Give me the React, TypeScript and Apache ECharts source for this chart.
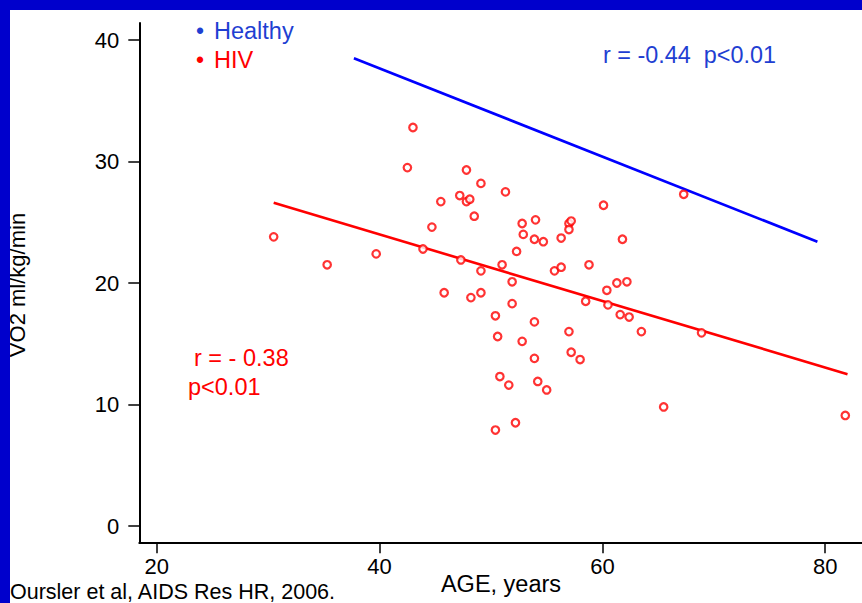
import React, { useEffect, useRef } from "react";
import * as echarts from "echarts";

// HIV patients: age (years) and VO2 (ml/kg/min)
const hivAge = [
  43.0, 42.5, 47.8, 49.1, 51.3, 45.5, 47.2, 47.8, 48.1, 48.5,
  44.7, 43.9, 47.3, 49.1, 51.0, 51.9, 45.8, 48.2, 49.1, 51.9,
  50.4, 50.6, 53.9, 52.8, 53.9, 50.8, 51.6, 54.2, 55.0, 50.4,
  52.2, 52.8, 52.9, 54.0, 53.9, 54.7, 52.3, 56.3, 57.0, 57.2,
  57.0, 60.1, 61.8, 67.3, 55.7, 56.3, 58.8, 61.3, 62.2, 60.4,
  58.5, 60.5, 61.6, 62.4, 63.5, 57.0, 57.2, 58.0, 65.5, 68.9,
  81.8, 30.5, 35.3, 39.7,
];
const hivVo2 = [
  32.8, 29.5, 29.3, 28.2, 27.5, 26.7, 27.2, 26.7, 26.9, 25.5,
  24.6, 22.8, 21.9, 21.0, 21.5, 20.1, 19.2, 18.8, 19.2, 18.3,
  17.3, 15.6, 16.8, 15.2, 13.8, 12.3, 11.6, 11.9, 11.2, 7.9,
  8.5, 24.9, 24.0, 25.2, 23.6, 23.4, 22.6, 23.7, 24.9, 25.1,
  24.4, 26.4, 23.6, 27.3, 21.0, 21.3, 21.5, 20.0, 20.1, 19.4,
  18.5, 18.2, 17.4, 17.2, 16.0, 16.0, 14.3, 13.7, 9.8, 15.9,
  9.1, 23.8, 21.5, 22.4,
];

// Regression lines (end points)
const healthyLineAge = [37.7, 79.3];
const healthyLineVo2 = [38.5, 23.4];
const hivLineAge = [30.5, 82.0];
const hivLineVo2 = [26.6, 12.5];

// Axis ticks
const xTicks = [20, 40, 60, 80];
const yTicks = [0, 10, 20, 30, 40];

const FONT = "Liberation Sans, Arial, sans-serif";
const TEXT_BLUE = "#1f3fd2";
const RED = "#ff0000";

export default function App() {
  const ref = useRef<HTMLDivElement>(null);

  useEffect(() => {
    if (!ref.current) return;
    const chart = echarts.init(ref.current, null, { renderer: "svg" });

    const hivPoints = hivAge.map((a, i) => [a, hivVo2[i]]);
    const healthyLine = healthyLineAge.map((a, i) => [a, healthyLineVo2[i]]);
    const hivLine = hivLineAge.map((a, i) => [a, hivLineVo2[i]]);

    chart.setOption({
      animation: false,
      backgroundColor: "#ffffff",
      grid: { left: 139.3, top: 23, right: 0, bottom: 603 - 542.3, containLabel: false },
      xAxis: {
        type: "value",
        min: 18.44,
        max: 83.3,
        splitLine: { show: false },
        axisLine: { show: true, onZero: false, lineStyle: { color: "#000", width: 2 } },
        axisTick: {
          show: true,
          customValues: xTicks,
          length: 11,
          inside: false,
          lineStyle: { color: "#000", width: 1.5 },
        },
        axisLabel: {
          customValues: xTicks,
          margin: 13,
          color: "#000",
          fontSize: 22,
          fontFamily: FONT,
        },
      },
      yAxis: {
        type: "value",
        min: -1.34,
        max: 41.4,
        splitLine: { show: false },
        axisLine: { show: true, onZero: false, lineStyle: { color: "#000", width: 2 } },
        axisTick: {
          show: true,
          customValues: yTicks,
          length: 11,
          inside: false,
          lineStyle: { color: "#000", width: 1.5 },
        },
        axisLabel: {
          customValues: yTicks,
          margin: 20,
          color: "#000",
          fontSize: 22,
          fontFamily: FONT,
        },
      },
      series: [
        {
          type: "line",
          data: healthyLine,
          symbol: "none",
          lineStyle: { color: "#0000ff", width: 2.6 },
          z: 3,
        },
        {
          type: "line",
          data: hivLine,
          symbol: "none",
          lineStyle: { color: RED, width: 2.6 },
          z: 3,
        },
        {
          type: "scatter",
          data: hivPoints,
          symbol: "circle",
          symbolSize: 7.5,
          itemStyle: { color: "#ffffff", borderColor: RED, borderWidth: 2.2 },
          z: 4,
        },
      ],
      graphic: [
        { type: "rect", shape: { x: 0, y: 0, width: 10, height: 603 }, style: { fill: "#0000cc" }, z: 100 },
        { type: "rect", shape: { x: 0, y: 0, width: 862, height: 10 }, style: { fill: "#0000cc" }, z: 100 },
        {
          type: "text",
          style: { text: "•", x: 196, y: 31, fill: TEXT_BLUE, font: `23px ${FONT}`, verticalAlign: "middle" },
        },
        {
          type: "text",
          style: { text: "Healthy", x: 214, y: 31, fill: TEXT_BLUE, font: `23.5px ${FONT}`, verticalAlign: "middle" },
        },
        {
          type: "text",
          style: { text: "•", x: 196, y: 60, fill: RED, font: `23px ${FONT}`, verticalAlign: "middle" },
        },
        {
          type: "text",
          style: { text: "HIV", x: 214, y: 60, fill: RED, font: `23.5px ${FONT}`, verticalAlign: "middle" },
        },
        {
          type: "text",
          style: { text: "r = -0.44  p<0.01", x: 603, y: 55, fill: TEXT_BLUE, font: `23.4px ${FONT}`, verticalAlign: "middle" },
        },
        {
          type: "text",
          style: { text: "r = - 0.38", x: 194, y: 358, fill: RED, font: `23.5px ${FONT}`, verticalAlign: "middle" },
        },
        {
          type: "text",
          style: { text: "p<0.01", x: 188, y: 387, fill: RED, font: `23.5px ${FONT}`, verticalAlign: "middle" },
        },
        {
          type: "text",
          x: 17,
          y: 285,
          rotation: Math.PI / 2,
          style: { text: "VO2 ml/kg/min", x: 0, y: 0, fill: "#000", font: `22px ${FONT}`, align: "center", verticalAlign: "middle" },
        },
        {
          type: "text",
          style: { text: "AGE, years", x: 501, y: 584, fill: "#000", font: `23.5px ${FONT}`, align: "center", verticalAlign: "middle" },
        },
        {
          type: "text",
          style: { text: "Oursler et al, AIDS Res HR, 2006.", x: 10, y: 592, fill: "#000", font: `21.5px ${FONT}`, verticalAlign: "middle" },
        },
      ],
    });

    return () => chart.dispose();
  }, []);

  return (
    <div
      ref={ref}
      style={{ position: "absolute", left: 0, top: 0, width: 862, height: 603, background: "#fff" }}
    />
  );
}
